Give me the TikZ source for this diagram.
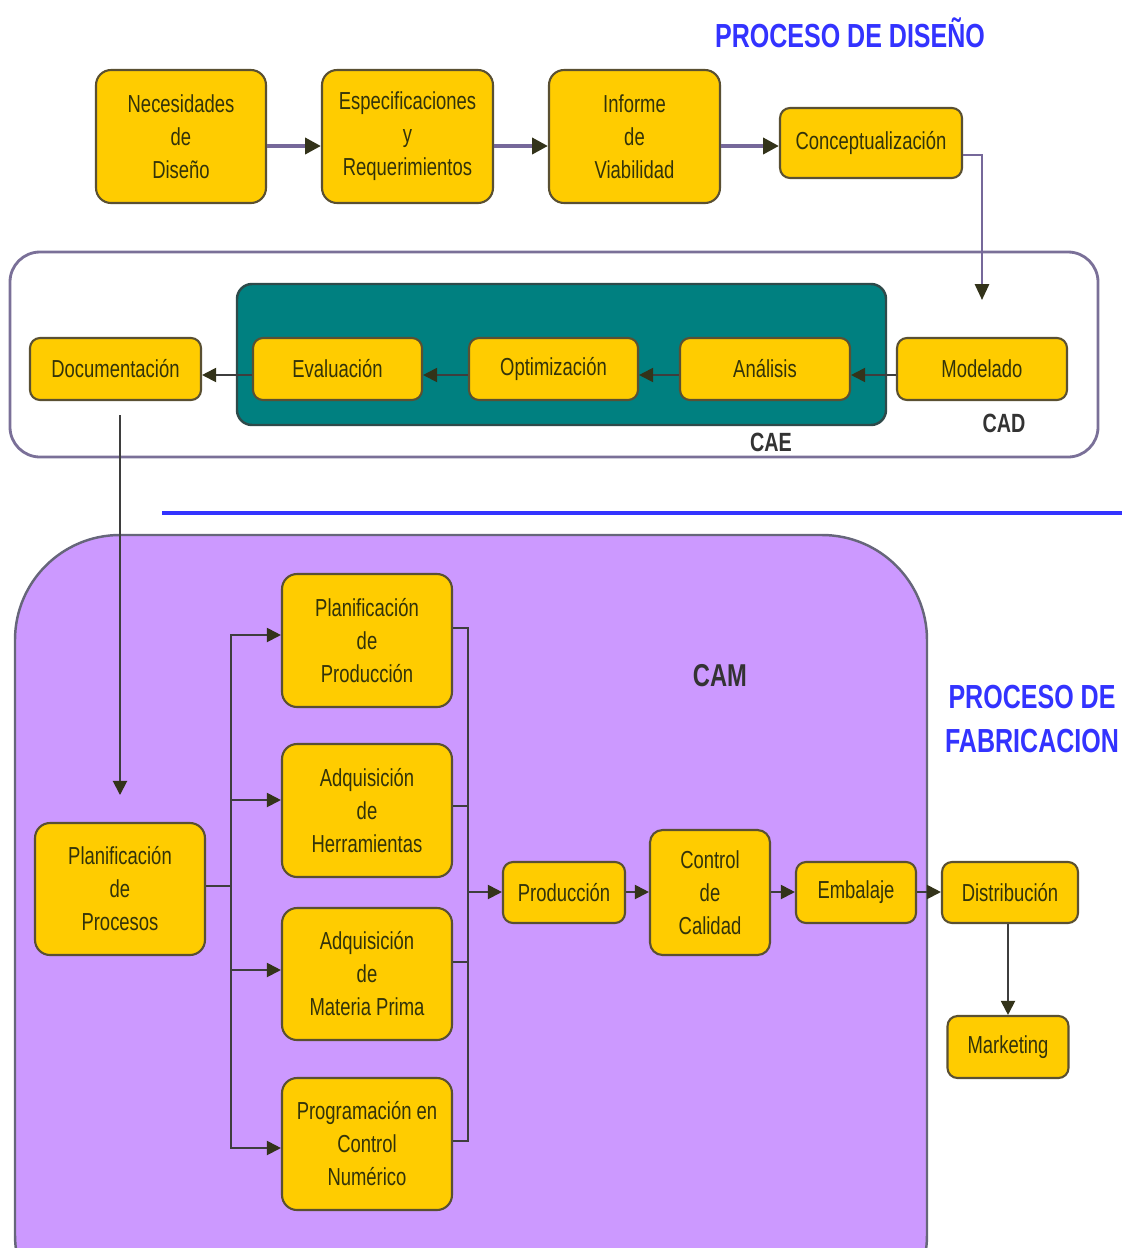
\documentclass[tikz,border=0pt]{standalone}
\usepackage{fontspec}
\setmainfont{Liberation Sans}[FakeStretch=0.75]
\usetikzlibrary{arrows.meta}
\definecolor{ybox}{HTML}{FFCC00}
\definecolor{yborder}{HTML}{5A5032}
\definecolor{txt}{HTML}{33330A}
\definecolor{topline}{HTML}{76689A}
\definecolor{darkline}{HTML}{3E3E3E}
\definecolor{tipcol}{HTML}{33331A}
\definecolor{framecol}{HTML}{7A7098}
\definecolor{tealfill}{HTML}{008080}
\definecolor{tealborder}{HTML}{2E4A4A}
\definecolor{camfill}{HTML}{CC99FF}
\definecolor{camborder}{HTML}{66667A}
\definecolor{titleblue}{HTML}{3333FF}
\definecolor{lblcol}{HTML}{333333}
\tikzset{
  yb/.style={draw=yborder, line width=1.2pt, fill=ybox, rounded corners=0.3cm,
    align=center, text=txt, inner sep=2pt, font=\fontsize{14}{18.8}\selectfont},
  ybs/.style={yb, rounded corners=0.2cm},
  toparr/.style={draw=topline, line width=2.2pt, -{Triangle[length=9pt,width=9pt,color=tipcol]}},
  toplin/.style={draw=topline, line width=2.2pt},
  darr/.style={draw=darkline, line width=1.1pt, -{Triangle[length=8pt,width=8pt,color=tipcol]}},
  dlin/.style={draw=darkline, line width=1.1pt},
  lbl/.style={font=\bfseries\fontsize{15}{18}\selectfont, text=lblcol},
  ttl/.style={font=\bfseries\fontsize{19}{25}\selectfont, text=titleblue, align=center}
}
\begin{document}
\begin{tikzpicture}[x=0.02cm, y=-0.02cm]
\useasboundingbox (0,0) rectangle (1126,1248);
% frames
\draw[framecol, line width=1.6pt, fill=white, rounded corners=0.6cm] (10,252) rectangle (1098,457);
\draw[tealborder, line width=1.4pt, fill=tealfill, rounded corners=0.3cm] (237,284) rectangle (886,425);
\begin{scope}
\clip (0,0) rectangle (1126,1248);
\draw[camborder, line width=1.4pt, fill=camfill, rounded corners=2.1cm] (15,535) rectangle (927,1340);
\end{scope}
\draw[titleblue, line width=2.4pt] (162,513) -- (1122,513);

% titles
\node[ttl] (t1) at (850,33) {PROCESO DE DISEÑO};
\node[ttl] (t2) at (1032,719) {PROCESO DE\\FABRICACION};
\node[lbl] (cad) at (1004,423) {CAD};
\node[lbl] (cae) at (771,442) {CAE};
\node[lbl, font=\bfseries\fontsize{18}{22}\selectfont] (cam) at (720,676) {CAM};

% top row
\node[yb, minimum width=3.4cm, minimum height=2.66cm] (n1) at (181,136.5) {Necesidades\\de\\Diseño};
\node[yb, minimum width=3.42cm, minimum height=2.66cm] (n2) at (407.5,136.5) {Especificaciones\\y\\Requerimientos};
\node[yb, minimum width=3.42cm, minimum height=2.66cm] (n3) at (634.5,136.5) {Informe\\de\\Viabilidad};
\node[ybs, minimum width=3.64cm, minimum height=1.4cm] (n4) at (871,143) {Conceptualización};
\draw[toparr] (n1.east |- 0,146) -- (n2.west |- 0,146);
\draw[toparr] (n2.east |- 0,146) -- (n3.west |- 0,146);
\draw[toparr] (n3.east |- 0,146) -- (n4.west |- 0,146);
\coordinate (m1) at (982,300);
\draw[toplin, line width=1.3pt, -{Triangle[length=9pt,width=8pt,color=tipcol]}] (n4.east |- 0,155) -| (m1);

% CAD / CAE row
\node[ybs, minimum width=3.42cm, minimum height=1.24cm] (doc) at (115.5,369) {Documentación};
\node[ybs, minimum width=3.38cm, minimum height=1.24cm] (eva) at (337.5,369) {Evaluación};
\node[ybs, minimum width=3.38cm, minimum height=1.24cm] (opt) at (553.5,369) {Optimización};
\node[ybs, minimum width=3.4cm, minimum height=1.24cm] (ana) at (765,369) {Análisis};
\node[ybs, minimum width=3.4cm, minimum height=1.24cm] (mod) at (982,369) {Modelado};
\draw[darr] (mod.west |- 0,375) -- (ana.east |- 0,375);
\draw[darr] (ana.west |- 0,375) -- (opt.east |- 0,375);
\draw[darr] (opt.west |- 0,375) -- (eva.east |- 0,375);
\draw[darr] (eva.west |- 0,375) -- (doc.east |- 0,375);
\coordinate (d1) at (120,415);
\coordinate (d2) at (120,795);
\draw[darr] (d1) -- (d2);

% CAM
\node[yb, minimum width=3.4cm, minimum height=2.64cm] (pp) at (120,889) {Planificación\\de\\Procesos};
\node[yb, minimum width=3.4cm, minimum height=2.66cm] (p1) at (367,640.5) {Planificación\\de\\Producción};
\node[yb, minimum width=3.4cm, minimum height=2.66cm] (p2) at (367,810.5) {Adquisición\\de\\Herramientas};
\node[yb, minimum width=3.4cm, minimum height=2.64cm] (p3) at (367,974) {Adquisición\\de\\Materia Prima};
\node[yb, minimum width=3.4cm, minimum height=2.64cm] (p4) at (367,1144) {Programación en\\Control\\Numérico};
\node[ybs, minimum width=2.44cm, minimum height=1.22cm] (prod) at (564,892.5) {Producción};
\node[yb, rounded corners=0.25cm, minimum width=2.4cm, minimum height=2.5cm] (cal) at (710,892.5) {Control\\de\\Calidad};
\node[ybs, minimum width=2.4cm, minimum height=1.22cm] (emb) at (856,892.5) {Embalaje};
\node[ybs, minimum width=2.72cm, minimum height=1.22cm] (dis) at (1010,892.5) {Distribución};
\node[ybs, minimum width=2.42cm, minimum height=1.24cm] (mkt) at (1008,1047) {Marketing};

\coordinate (jl) at (231,886);
\draw[dlin] (pp.east |- jl) -- (jl);
\draw[darr] (jl) |- (p1.west |- 0,635);
\draw[darr] (jl) |- (p2.west |- 0,800);
\draw[darr] (jl) |- (p3.west |- 0,970);
\draw[darr] (jl) |- (p4.west |- 0,1148);
\coordinate (jr) at (468,892);
\draw[dlin] (p1.east |- 0,628) -| (jr);
\draw[dlin] (p2.east |- 0,806) -| (jr);
\draw[dlin] (p3.east |- 0,962) -| (jr);
\draw[dlin] (p4.east |- 0,1141) -| (jr);
\draw[darr] (jr) -- (prod.west |- jr);
\draw[darr] (prod.east |- jr) -- (cal.west |- jr);
\draw[darr] (cal.east |- jr) -- (emb.west |- jr);
\draw[darr] (emb.east |- jr) -- (dis.west |- jr);
\draw[darr] (dis.south -| mkt.north) -- (mkt.north);
\end{tikzpicture}
\end{document}
